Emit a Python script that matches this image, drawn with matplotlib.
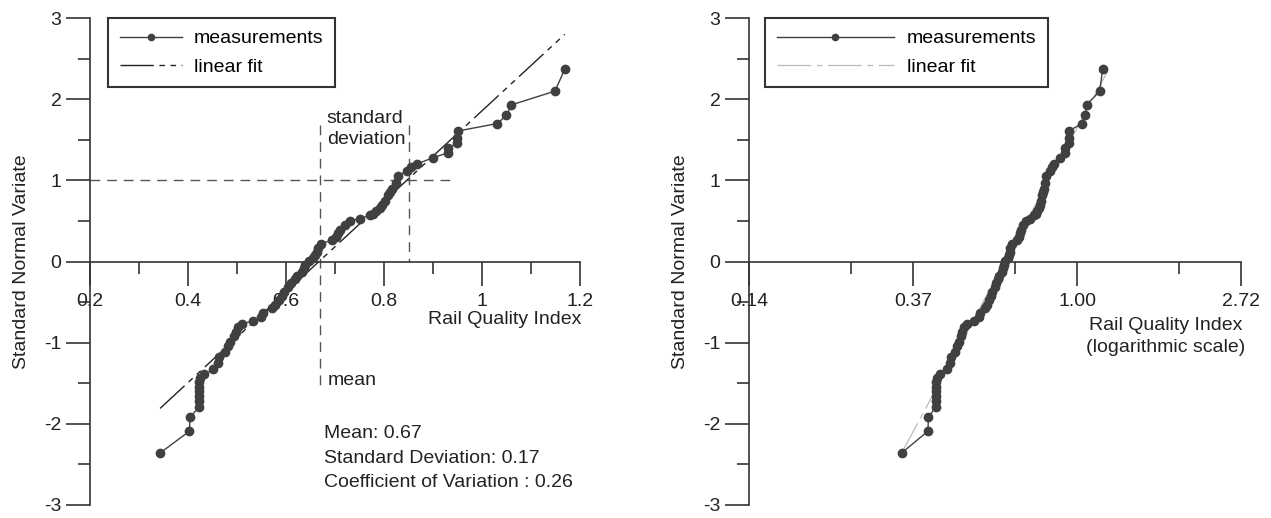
import matplotlib
matplotlib.use('Agg')
import matplotlib.pyplot as plt
from matplotlib.ticker import FixedLocator, MultipleLocator, NullFormatter

# sorted rail quality index measurements and their standard normal variate
rqi = [0.343, 0.403, 0.404, 0.423, 0.423, 0.423, 0.423, 0.423, 0.423, 0.425,
       0.433, 0.452, 0.462, 0.464, 0.476, 0.482, 0.486, 0.493, 0.497, 0.503,
       0.510, 0.533, 0.550, 0.553, 0.571, 0.578, 0.585, 0.591, 0.595, 0.605,
       0.610, 0.618, 0.622, 0.632, 0.636, 0.639, 0.646, 0.656, 0.660, 0.663,
       0.665, 0.671, 0.693, 0.702, 0.706, 0.710, 0.720, 0.731, 0.751, 0.771,
       0.778, 0.784, 0.792, 0.797, 0.802, 0.809, 0.812, 0.816, 0.824, 0.829,
       0.846, 0.856, 0.867, 0.900, 0.931, 0.931, 0.950, 0.950, 0.952, 1.031,
       1.050, 1.060, 1.149, 1.169]
snv = [-2.36, -2.09, -1.92, -1.79, -1.72, -1.66, -1.60, -1.54, -1.48, -1.43,
       -1.39, -1.33, -1.25, -1.18, -1.11, -1.04, -0.99, -0.92, -0.87, -0.81,
       -0.77, -0.73, -0.68, -0.64, -0.57, -0.53, -0.48, -0.43, -0.37, -0.31,
       -0.26, -0.22, -0.18, -0.13, -0.08, -0.04, 0.01, 0.04, 0.08, 0.12,
       0.17, 0.22, 0.26, 0.30, 0.35, 0.39, 0.45, 0.50, 0.53, 0.57,
       0.59, 0.62, 0.66, 0.70, 0.74, 0.82, 0.86, 0.90, 0.97, 1.05,
       1.12, 1.17, 1.20, 1.28, 1.34, 1.40, 1.46, 1.52, 1.61, 1.70,
       1.80, 1.93, 2.10, 2.37]

fit_lin_x = [0.343, 1.169]
fit_lin_y = [-1.81, 2.80]
fit_log_x = [0.343, 1.21]
fit_log_y = [-2.36, 2.36]

mean_x = 0.67
sd_x = 0.852

lin_ticks = [0.2, 0.4, 0.6, 0.8, 1.0, 1.2]
lin_labels = ['0.2', '0.4', '0.6', '0.8', '1', '1.2']
log_ticks = [0.1353, 0.3679, 1.0, 2.7183]
log_labels = ['0.14', '0.37', '1.00', '2.72']
log_minor = [0.2516, 0.6839, 1.8591]
y_ticks = [-3, -2, -1, 0, 1, 2, 3]

stats_text = 'Mean: 0.67\nStandard Deviation: 0.17\nCoefficient of Variation : 0.26'

plt.rcParams['font.family'] = ['Liberation Sans', 'DejaVu Sans']
plt.rcParams['axes.unicode_minus'] = False
FS = 14
DARK = '#404040'
AXC = '#333333'


def style_axis(ax):
    ax.spines['top'].set_visible(False)
    ax.spines['right'].set_visible(False)
    ax.spines['bottom'].set_position(('data', 0))
    for s in ('left', 'bottom'):
        ax.spines[s].set_color(AXC)
        ax.spines[s].set_linewidth(1.2)
    ax.set_ylim(-3, 3)
    ax.set_yticks(y_ticks)
    ax.yaxis.set_minor_locator(MultipleLocator(0.5))
    ax.tick_params(which='both', direction='out', color=AXC, width=1.2,
                   labelsize=FS, labelcolor='#222222')
    ax.tick_params(which='major', length=17)
    ax.tick_params(which='minor', length=8.5)
    ax.tick_params(axis='x', pad=6)
    ax.set_ylabel('Standard Normal Variate', fontsize=FS, color='#222222',
                  labelpad=10)


fig = plt.figure(figsize=(12.71, 5.18), dpi=100)
ax1 = fig.add_axes([0.0708, 0.0251, 0.3855, 0.940])
ax2 = fig.add_axes([0.5893, 0.0251, 0.3871, 0.940])

# left: linear scale
style_axis(ax1)
ax1.set_xlim(0.2, 1.2)
ax1.set_xticks(lin_ticks)
ax1.set_xticklabels(lin_labels)
ax1.xaxis.set_minor_locator(MultipleLocator(0.1))

ax1.plot([0.2, 0.942], [1, 1], color='#555555', lw=1, dashes=(7, 5))
ax1.plot([mean_x, mean_x], [1.68, -1.55], color='#555555', lw=1, dashes=(7, 5))
ax1.plot([sd_x, sd_x], [1.68, 0], color='#555555', lw=1, dashes=(7, 5))

ax1.plot(rqi, snv, '-o', color=DARK, lw=1, ms=6, mec=DARK, mfc=DARK,
         label='measurements', zorder=3)
ax1.plot(fit_lin_x, fit_lin_y, color='#222222', lw=1,
         dashes=(24, 4, 4, 4, 4, 4), label='linear fit', zorder=2)

ax1.text(0.683, 1.87, 'standard\ndeviation', fontsize=FS, color='#222222',
         va='top', ha='left', linespacing=1.3)
ax1.text(0.686, -1.46, 'mean', fontsize=FS, color='#222222', va='center')
ax1.text(0.678, -2.02, stats_text, fontsize=FS, color='#222222', va='top',
         ha='left', linespacing=1.55)
ax1.text(1.047, -0.72, 'Rail Quality Index', fontsize=FS, color='#222222',
         ha='center', va='center')

leg1 = ax1.legend(loc='upper left', bbox_to_anchor=(0.037, 1.0), fontsize=FS,
                  handlelength=3.2, handletextpad=0.6, borderpad=0.6,
                  labelspacing=0.55, numpoints=1, fancybox=False,
                  borderaxespad=0, markerscale=0.75)
leg1.get_frame().set_edgecolor(AXC)
leg1.get_frame().set_linewidth(1.5)
leg1.get_frame().set_alpha(1)

# right: logarithmic scale
style_axis(ax2)
ax2.set_xscale('log')
ax2.set_xlim(log_ticks[0], log_ticks[-1])
ax2.xaxis.set_major_locator(FixedLocator(log_ticks))
ax2.set_xticklabels(log_labels)
ax2.xaxis.set_minor_locator(FixedLocator(log_minor))
ax2.xaxis.set_minor_formatter(NullFormatter())

ax2.plot(rqi, snv, '-o', color=DARK, lw=1, ms=6, mec=DARK, mfc=DARK,
         label='measurements', zorder=3)
ax2.plot(fit_log_x, fit_log_y, color='#bbbbbb', lw=0.9,
         dashes=(27, 4.5, 4.5, 4.5), label='linear fit', zorder=2)

ax2.text(1.72, -0.92, 'Rail Quality Index\n(logarithmic scale)', fontsize=FS,
         color='#222222', ha='center', va='center', linespacing=1.4)

leg2 = ax2.legend(loc='upper left', bbox_to_anchor=(0.033, 1.0), fontsize=FS,
                  handlelength=6.0, handletextpad=0.7, borderpad=0.6,
                  labelspacing=0.55, numpoints=1, fancybox=False,
                  borderaxespad=0, markerscale=0.75)
leg2.get_frame().set_edgecolor(AXC)
leg2.get_frame().set_linewidth(1.5)
leg2.get_frame().set_alpha(1)

fig.savefig('out.png', dpi=100)
